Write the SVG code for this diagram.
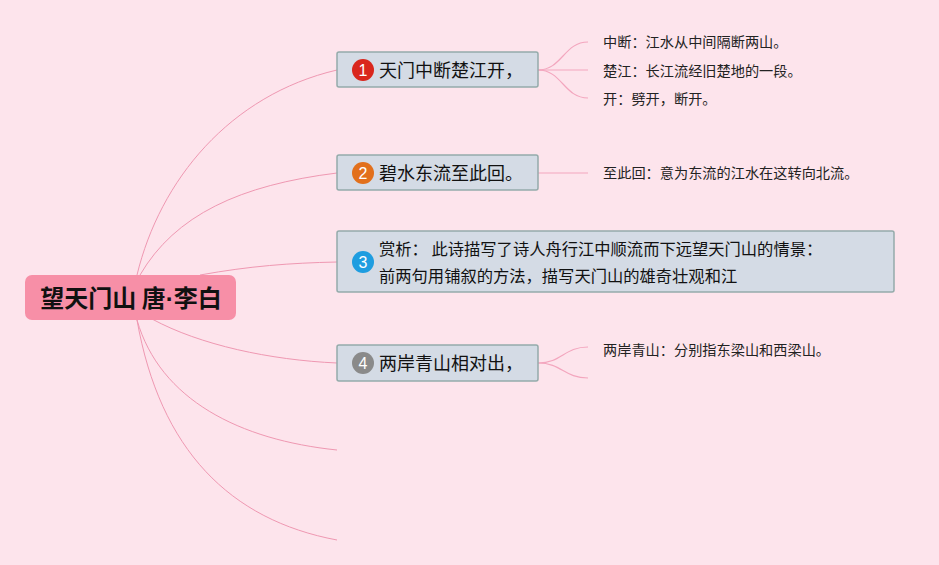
<svg xmlns="http://www.w3.org/2000/svg" width="939" height="565" viewBox="0 0 939 565">
<style>
.bg{fill:#fde4ec}
.main{fill:#f78fa7}
.mt{font-family:"Noto Sans CJK SC","Noto Sans",sans-serif;font-size:24px;font-weight:bold;fill:#111}
.dot{font-family:"Liberation Sans",sans-serif}
.box{fill:#d4dbe5;stroke:#94abaa;stroke-width:1.5}
.t{font-family:"Noto Sans CJK SC","Noto Sans",sans-serif;font-size:18px;fill:#111}
.t3{font-family:"Noto Sans CJK SC","Noto Sans",sans-serif;font-size:16.3px;fill:#111}
.s{font-family:"Noto Sans CJK SC","Noto Sans",sans-serif;font-size:14.2px;fill:#222}
.num{font-family:"Liberation Sans","Noto Sans",sans-serif;font-size:16px;fill:#fff;text-anchor:middle}
.c{fill:none;stroke:#ef98b2;stroke-width:1}
.sc{fill:none;stroke:#f3a6be;stroke-width:1.2}
</style>
<rect class="bg" x="0" y="0" width="939" height="565"/>
<g id="connectors">
<path class="c" d="M137,275 C160,180 230,95 337,70"/>
<path class="c" d="M140,275 C175,215 240,185 337,173"/>
<path class="c" d="M200,275 C250,266 290,263 337,262"/>
<path class="c" d="M152,319 C200,345 270,360 337,363"/>
<path class="c" d="M137,320 C160,400 240,440 337,450"/>
<path class="c" d="M137,320 C160,450 230,520 337,540"/>
<path class="sc" d="M538,70 C562,70 564,42 588,42"/>
<path class="sc" d="M538,70 L588,70"/>
<path class="sc" d="M538,70 C562,70 564,98 588,98"/>
<path class="sc" d="M538,173 L588,173"/>
<path class="sc" d="M538,363 C562,363 564,347 588,347"/>
<path class="sc" d="M538,363 C562,363 564,378 588,378"/>
</g>
<g id="root">
<rect class="main" x="25" y="275" width="211" height="45" rx="7"/>
<text class="mt" x="131" y="306.5" text-anchor="middle">望天门山 唐<tspan class="dot">·</tspan>李白</text>
</g>
<g id="n1">
<rect class="box" x="337" y="52" width="201" height="35" rx="2"/>
<circle cx="363" cy="70" r="11" fill="#d9261c"/>
<text class="num" x="363" y="75.5">1</text>
<text class="t" x="379" y="76.5">天门中断楚江开，</text>
</g>
<g id="n1a"><text class="s" x="603" y="47">中断：江水从中间隔断两山。</text></g>
<g id="n1b"><text class="s" x="603" y="76">楚江：长江流经旧楚地的一段。</text></g>
<g id="n1c"><text class="s" x="603" y="104">开：劈开，断开。</text></g>
<g id="n2">
<rect class="box" x="337" y="155" width="201" height="35" rx="2"/>
<circle cx="363" cy="173" r="11" fill="#e2701c"/>
<text class="num" x="363" y="178.5">2</text>
<text class="t" x="379" y="179.5">碧水东流至此回。</text>
</g>
<g id="n2a"><text class="s" x="603" y="178">至此回：意为东流的江水在这转向北流。</text></g>
<g id="n3">
<rect class="box" x="337" y="231" width="557" height="61" rx="2"/>
<circle cx="363" cy="262" r="11" fill="#1e9de0"/>
<text class="num" x="363" y="267.5">3</text>
<text class="t3" x="379" y="255">赏析： 此诗描写了诗人舟行江中顺流而下远望天门山的情景：</text>
<text class="t3" x="379" y="282">前两句用铺叙的方法，描写天门山的雄奇壮观和江</text>
</g>
<g id="n4">
<rect class="box" x="337" y="345" width="201" height="36" rx="2"/>
<circle cx="363" cy="363" r="11" fill="#8a8a8a"/>
<text class="num" x="363" y="368.5">4</text>
<text class="t" x="379" y="369.5">两岸青山相对出，</text>
</g>
<g id="n4a"><text class="s" x="603" y="355">两岸青山：分别指东梁山和西梁山。</text></g>
</svg>
